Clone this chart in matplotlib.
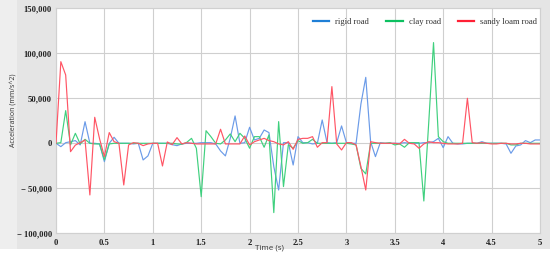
import matplotlib
matplotlib.use("Agg")
import matplotlib.pyplot as plt
from matplotlib.patches import Rectangle
import numpy as np

# time axis: one sample every 0.05 s
time_s = np.round(np.arange(0, 101) * 0.05, 2)

rigid_road = [
    0, -3700, 700, 1800, 3000, -1800, 24000, 0, 0, -700,
    -20400, 0, 6700, 0, 0, 0, -700, 0, -18500, -14000,
    0, 0, 0, 0, -1500, -2600, -700, 0, 0, 0,
    700, 700, 700, -700, -8500, -14000, 5500, 30400, 0, 700,
    17800, 3700, 5500, 14800, 11900, -25900, -51900, 700, 700, -24100,
    7400, 700, 700, -700, 0, 25900, 700, 0, 700, 19300,
    700, 0, 0, 43700, 73300, 1800, -14800, 700, 0, 0,
    0, 0, 700, 0, 0, 0, 700, 700, 1800, 5500,
    -4800, 7400, 0, -700, -700, 0, 0, 0, 1800, 0,
    0, 0, 0, -700, -11100, -3000, -1800, 3000, 700, 3700,
    3700,
]
clay_road = [
    0, 700, 36300, -1800, 11100, -700, 4400, 0, -700, -700,
    -18500, -700, 0, 0, 0, 0, 0, 0, 0, 0,
    0, 0, 0, 0, 0, -700, -1000, 1000, 5500, -5500,
    -59300, 14000, 7400, 0, -700, 3700, 10400, 1800, 11100, 5500,
    -5500, 7400, 7400, -4400, 9300, -77000, 24100, -48100, -1800, -5500,
    3000, 0, 700, 4400, 0, 0, 0, 0, 0, 0,
    0, -700, -1800, -27800, -34000, 0, 0, 0, 0, 700,
    -1800, -700, -4400, 700, 700, 700, -64100, 22000, 111900, 7400,
    1800, 0, 0, 0, 0, 0, 0, 0, 0, 0,
    0, 0, 0, 0, -1800, -1800, 0, 0, 0, 0,
    0,
]
sandy_loam_road = [
    0, 90700, 75900, -9300, -2000, 700, 3700, -57400, 28900, 5000,
    -14800, 11900, 1800, 0, -46300, -1800, 700, 0, -2600, -700,
    0, 0, -25200, 1500, -1500, 6300, -700, 700, 0, -700,
    -700, -700, -700, -700, 15600, -700, -700, -700, -700, 8100,
    -1800, 1800, 3700, 5500, 3000, 1800, -700, -1800, 1800, -6700,
    4400, 5500, 5500, 7400, -4400, 700, 700, 63000, -700, -7400,
    700, 700, -1800, -25900, -51900, 1800, 700, 0, 0, 0,
    0, -700, 4400, 0, -700, -5500, -700, 1800, 700, 700,
    0, -700, -700, -700, 0, 50000, 700, 0, 700, 0,
    -700, -700, 0, 0, -700, -700, 0, 0, -700, -700,
    -700,
]

series_names = ["rigid road", "clay road", "sandy loam road"]
x_ticks = [0, 0.5, 1, 1.5, 2, 2.5, 3, 3.5, 4, 4.5, 5]
x_tick_labels = ["0", "0.5", "1", "1.5", "2", "2.5", "3", "3.5", "4", "4.5", "5"]
y_ticks = [-100000, -50000, 0, 50000, 100000, 150000]
y_tick_labels = ["\u2212 100,000", "\u2212 50,000", "0", "50,000", "100,000", "150,000"]

LINE_COLORS = ["#6b9be8", "#3fd07e", "#ff5565"]
LEGEND_COLORS = ["#1f7fd6", "#0cc060", "#ff2035"]

W, H = 550, 261
fig = plt.figure(figsize=(W / 100, H / 100), dpi=100)
fig.patch.set_facecolor("white")

# grey panel behind the chart
fig.add_artist(Rectangle((0, 12 / H), 1, 1 - 12 / H, transform=fig.transFigure,
                         facecolor="#e5e5e5", edgecolor="none", zorder=-10))
fig.add_artist(Rectangle((0, 12 / H), 17 / W, 1 - 12 / H, transform=fig.transFigure,
                         facecolor="#eeeeee", edgecolor="none", zorder=-9))

left, right = 56 / W, 540 / W
top, bottom = 1 - 8.3 / H, 1 - 233.3 / H
ax = fig.add_axes([left, bottom, right - left, top - bottom])
ax.set_facecolor("white")

handles = []
for name, vals, lc, hc in zip(series_names, [rigid_road, clay_road, sandy_loam_road],
                              LINE_COLORS, LEGEND_COLORS):
    ax.plot(time_s, vals, color=lc, lw=0.85, zorder=3)
    handles.append(plt.Line2D([], [], color=hc, lw=1.6, label=name))

ax.set_xlim(0, 5)
ax.set_ylim(-100000, 150000)
ax.set_xticks(x_ticks)
ax.set_xticklabels(x_tick_labels)
ax.set_yticks(y_ticks)
ax.set_yticklabels(y_tick_labels)
ax.tick_params(length=0, labelsize=6.2, colors="#222222")
ax.tick_params(axis="x", pad=4.0)
ax.tick_params(axis="y", pad=3.0)
for lab in ax.get_xticklabels() + ax.get_yticklabels():
    lab.set_family("Liberation Serif")
    lab.set_fontweight("bold")

ax.grid(True, color="#cfcfcf", lw=0.8)
ax.set_axisbelow(True)
for sp in ax.spines.values():
    sp.set_color("#d0d0d0")
    sp.set_linewidth(0.8)

leg = ax.legend(handles=handles, ncol=3, loc="center right",
                bbox_to_anchor=(1.0, 1 - 13.7 / 225), frameon=False,
                prop={"family": "Liberation Serif", "size": 6.2},
                handlelength=1.9, handletextpad=0.7, columnspacing=2.0,
                borderpad=0.2, borderaxespad=0.1)
for t in leg.get_texts():
    t.set_color("#333333")

fig.text(14 / W, 1 - 110 / H, "Acceleration (mm/s^2)", rotation=90,
         ha="center", va="center", fontsize=5, family="Open Sans", color="#333333")
fig.text(269 / W, 1 - 248 / H, "Time (s)", ha="center", va="center",
         fontsize=5.8, family="Open Sans", color="#333333")

fig.savefig("out.png", dpi=100)
